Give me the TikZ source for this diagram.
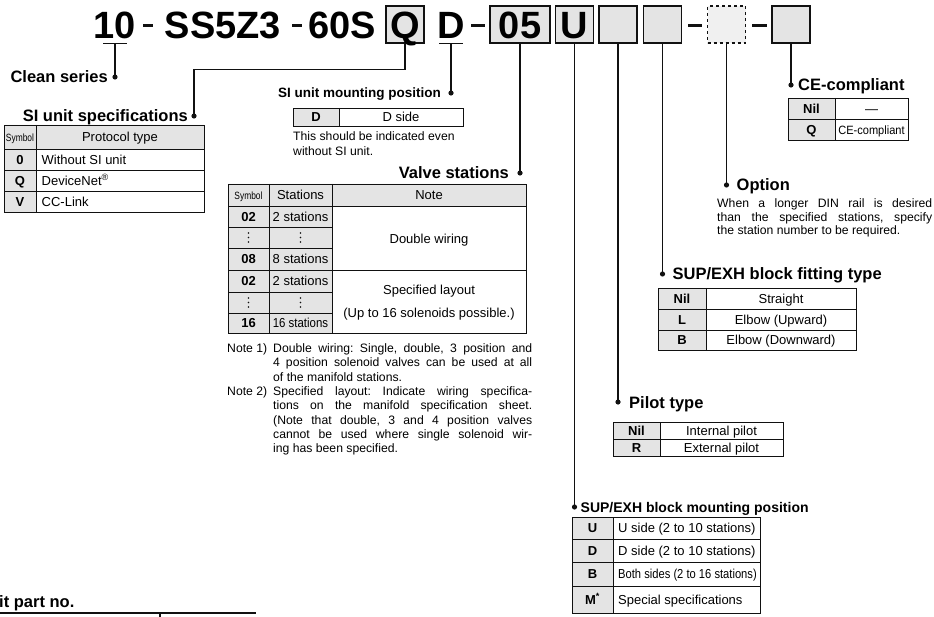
\documentclass[tikz,border=0pt]{standalone}
\usepackage{fontspec}
\setmainfont{Liberation Sans}
\usepackage{graphicx}
\usepackage{tikz}
\definecolor{inkmain}{HTML}{111111}
\definecolor{cellgrey}{HTML}{E4E4E4}
\newcommand{\fsz}[1]{\fontsize{#1}{#1}\selectfont}
\newcommand{\cond}[2][.85]{\scalebox{#1}[1]{#2}}

\begin{document}
\frenchspacing
\begin{tikzpicture}[x=1pt,y=-1pt,
  codebox/.style={draw=inkmain,line width=1.3pt,fill=cellgrey,minimum width=38pt,
    minimum height=37pt,inner sep=0pt,text height=27.3pt,text depth=0pt,font=\fsz{38}\bfseries},
  codetxt/.style={minimum height=37pt,inner sep=0pt,text height=27.3pt,text depth=0pt,
    font=\fsz{38}\bfseries},
  head/.style={font=\fsz{16.5}\bfseries,inner sep=0pt,text height=12pt,text depth=0pt},
  body/.style={font=\fsz{13},inner sep=0pt,text height=9.4pt,text depth=0pt},
  symb/.style={body,font=\fsz{13}\bfseries},
  note/.style={font=\fsz{12.2},inner sep=0pt,anchor=base west},
  lead/.style={draw=inkmain,line width=1.3pt},
  cell/.style={draw=inkmain,line width=.9pt}]
  \useasboundingbox (0,0) rectangle (934,617);

  % part number
  \node[codetxt] (n10) at (115,24.5) {10};
  \node[codetxt] (ss) at (223,24.5) {SS5Z3};
  \node[codetxt] (n60) at (342,24.5) {60S};
  \node[codebox] (q) at (405,24.5) {Q};
  \node[codetxt] (dd) at (451,24.5) {D};
  \node[codebox,minimum width=60pt] (n05) at (520,24.5) {05};
  \node[codebox] (u) at (574.5,24.5) {U};
  \node[codebox] (pil) at (618,24.5) {};
  \node[codebox] (fit) at (662.5,24.5) {};
  \node[codebox,dashed,fill=cellgrey!55] (opt) at (726.5,24.5) {};
  \node[codebox] (ce) at (791,24.5) {};
  \foreach \x/\w in {148/10,297/10,477.5/14,694.5/14,759/15}
    \fill[inkmain] (\x-\w/2,24.2) rectangle (\x+\w/2,26.8);
  \draw[lead] ([xshift=-12pt]n10.south) -- ([xshift=12pt]n10.south);
  \draw[lead] ([xshift=-12pt]dd.south) -- ([xshift=12pt]dd.south);

  % leads
  \coordinate (cleandot) at (115,77);
  \coordinate (siudot) at (194,116);
  \coordinate (mountdot) at (451,93);
  \coordinate (valvedot) at (520,173);
  \coordinate (cedot) at (791,85);
  \coordinate (optdot) at (726.5,185);
  \coordinate (fitdot) at (662.5,274);
  \coordinate (pildot) at (618,402);
  \coordinate (blockdot) at (574.5,507);
  \draw[lead] (n10.south) -- (cleandot);
  \draw[lead] (q.south) -- ++(0,26) -| (siudot);
  \draw[lead] (dd.south) -- (mountdot);
  \foreach \a/\b in {n05/valvedot,ce/cedot,opt/optdot,fit/fitdot,pil/pildot,u/blockdot}
    \draw[lead] (\a.south) -- (\b);
  \foreach \c in {cleandot,siudot,mountdot,valvedot,cedot,optdot,fitdot,pildot,blockdot}
    \fill[inkmain] (\c) circle (2.6pt);

  \node[head,anchor=east] (cleanhd) at ([xshift=-7pt]cleandot) {Clean series};
  \node[head,anchor=east] (siuhd) at ([xshift=-6pt]siudot) {SI unit specifications};
  \node[head,anchor=east,font=\fsz{13.5}\bfseries,text height=9.7pt] (mounthd)
    at ([xshift=-10pt]mountdot) {SI unit mounting position};
  \node[head,anchor=east] (valvehd) at ([xshift=-11pt]valvedot) {Valve stations};
  \node[head,anchor=west] (cehd) at ([xshift=7pt]cedot) {CE-compliant};
  \node[head,anchor=west] (opthd) at ([xshift=10pt]optdot) {Option};
  \node[head,anchor=west] (fithd) at ([xshift=10pt]fitdot) {SUP/EXH block fitting type};
  \node[head,anchor=west] (pilhd) at ([xshift=11pt]pildot) {Pilot type};
  \node[head,anchor=west,font=\fsz{14}\bfseries,text height=10pt] (blockhd)
    at ([xshift=6pt]blockdot) {SUP/EXH block mounting position};

  % SI unit specifications
  \fill[cellgrey] (4,125) rectangle (204,149) (4,149) rectangle (36,212);
  \draw[cell] (4,125) rectangle (204,212) (36,125) -- (36,212);
  \foreach \y in {149,170,191} \draw[cell] (4,\y) -- (204,\y);
  \node[body] (siusym) at (20,137) {\cond[.8]{\fsz{10.5}Symbol}};
  \node[body] (siuprot) at (120,137) {Protocol type};
  \foreach \y/\s/\t [count=\i] in {159.5/0/Without SI unit,180.5/Q/DeviceNet\textsuperscript{®},201.5/V/CC-Link}{
    \node[symb] (siu\i) at (20,\y) {\s};
    \node[body,anchor=west] (siut\i) at (41.5,\y) {\t};
  }

  % SI unit mounting position
  \fill[cellgrey] (293,108) rectangle (339,126);
  \draw[cell] (293,108) rectangle (463,126) (339,108) -- (339,126);
  \node[symb] (mountsym) at (316,117) {D};
  \node[body] (mountside) at (401,117) {D side};
  \node[note] (mountnote1) at (293,140.3) {This should be indicated even};
  \node[note] (mountnote2) at (293,155.3) {without SI unit.};

  % valve stations
  \fill[cellgrey] (228,184) rectangle (526,206) (228,206) rectangle (332,333);
  \draw[cell] (228,184) rectangle (526,333) (269,184) -- (269,333) (332,184) -- (332,333)
    (332,206) -- (526,206) (332,270) -- (526,270);
  \foreach \y in {206,227,248,270,292,313} \draw[cell] (228,\y) -- (332,\y);
  \node[body] (vsym) at (248.5,195) {\cond[.8]{\fsz{10.5}Symbol}};
  \node[body] (vsta) at (300.5,195) {Stations};
  \node[body] (vnote) at (429,195) {Note};
  \foreach \y/\s/\t [count=\i] in {216.5/02/2 stations,259/08/8 stations,
      281/02/2 stations,323/16/\cond[.88]{16 stations}}{
    \node[symb] (vs\i) at (248.5,\y) {\s};
    \node[body] (vt\i) at (300.5,\y) {\t};
  }
  \foreach \y in {237.5,302.5}
    \foreach \x in {248.5,300.5}
      \foreach \d in {-4.5,0,4.5}
        \fill[inkmain] (\x,\y+\d) circle (.8pt);
  \node[body] (dblwire) at (429,238.5) {Double wiring};
  \node[body] (speclay) at (429,290) {Specified layout};
  \node[body] (upto) at (429,313) {(Up to 16 solenoids possible.)};

  % notes
  \node[note] (notea) at (227,352.5) {Note 1)};
  \node[note] (noteb) at (227,395.4) {Note 2)};
  \foreach \y/\f/\t [count=\i] in {352.5/s/{Double wiring: Single, double, 3 position and},
      366.8/s/{4 position solenoid valves can be used at all},381.1/l/{of the manifold stations.},
      395.4/s/{Specified layout: Indicate wiring specifica-},
      409.7/s/{tions on the manifold specification sheet.},
      424/s/{(Note that double, 3 and 4 position valves},
      438.3/s/{cannot be used where single solenoid wir-},452.6/l/{ing has been specified.}}
    \node[note] (nl\i) at (273,\y) {\makebox[259pt][\f]{\t}};

  % CE-compliant
  \fill[cellgrey] (788,98) rectangle (835,140);
  \draw[cell] (788,98) rectangle (908,140) (835,98) -- (835,140) (788,119) -- (908,119);
  \node[symb] (cenil) at (811.5,108.5) {Nil};
  \node[body] (cedash) at (871.5,108.5) {—};
  \node[symb] (ceq) at (811.5,129.5) {Q};
  \node[body] (ceyes) at (871.5,129.5) {\cond[.92]{\fsz{12}CE-compliant}};

  % option
  \foreach \y/\f/\t [count=\i] in {207.5/s/{When a longer DIN rail is desired},
      221.3/s/{than the specified stations, specify},235/l/{the station number to be required.}}
    \node[note] (ol\i) at (717,\y) {\makebox[215pt][\f]{\t}};

  % fitting type
  \fill[cellgrey] (658,288) rectangle (706,350);
  \draw[cell] (658,288) rectangle (856,350) (706,288) -- (706,350);
  \foreach \y in {309,330} \draw[cell] (658,\y) -- (856,\y);
  \foreach \y/\s/\t [count=\i] in {298.5/Nil/Straight,319.5/L/Elbow (Upward),340/B/Elbow (Downward)}{
    \node[symb] (fs\i) at (682,\y) {\s};
    \node[body] (ft\i) at (781,\y) {\t};
  }

  % pilot type
  \fill[cellgrey] (613,422) rectangle (660,456);
  \draw[cell] (613,422) rectangle (783,456) (660,422) -- (660,456) (613,439) -- (783,439);
  \foreach \y/\s/\t [count=\i] in {430.5/Nil/Internal pilot,447.5/R/External pilot}{
    \node[symb] (ps\i) at (636.5,\y) {\s};
    \node[body] (pt\i) at (721.5,\y) {\t};
  }

  % block mounting position
  \fill[cellgrey] (572,517) rectangle (613,613);
  \draw[cell] (572,517) rectangle (760,613) (613,517) -- (613,613);
  \foreach \y in {539,562,586} \draw[cell] (572,\y) -- (760,\y);
  \foreach \y/\s/\t [count=\i] in {528/U/U side (2 to 10 stations),550.5/D/D side (2 to 10 stations),
      574/B/\cond[.86]{Both sides (2 to 16 stations)},599.5/M\textsuperscript{*}/Special specifications}{
    \node[symb] (ms\i) at (592.5,\y) {\s};
    \node[body,anchor=west] (mt\i) at (618,\y) {\t};
  }

  % cut-off part number table
  \node[head,anchor=west] (partno) at (-1,601) {it part no.};
  \draw[lead] (0,613) -- (256,613) (160,613) -- (160,617);
\end{tikzpicture}
\end{document}
